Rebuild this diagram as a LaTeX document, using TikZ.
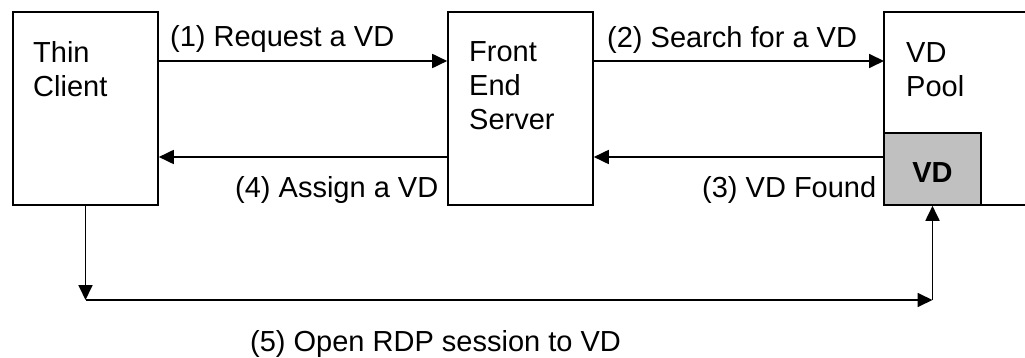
\documentclass[tikz,border=0pt]{standalone}
\usepackage{fontspec}
\setmainfont{Liberation Sans}
\usetikzlibrary{arrows.meta}
\definecolor{vdgray}{HTML}{C0C0C0}
\begin{document}
\begin{tikzpicture}[x=1pt,y=-1pt,
  box/.style={draw, line width=1.6pt, minimum width=145pt, minimum height=193pt, inner sep=0pt},
  arr/.style={line width=1.8pt, -{Triangle[length=15pt,width=14pt]}},
  lbl/.style={inner sep=0pt, anchor=base west, font=\fontsize{29}{34}\selectfont},
  btxt/.style={inner sep=0pt, anchor=base west, align=left, font=\fontsize{29}{34}\selectfont}]
\useasboundingbox (0,0) rectangle (1025,358);
% boxes
\node[box] (tc) at (85.5,108.5) {};
\node[box] (fe) at (520.5,108.5) {};
\coordinate (poolnw) at (884,12);
\coordinate (poolsw) at (884,205);
\coordinate (poolne) at (1025,12);
\coordinate (poolse) at (1025,205);
\draw[line width=1.6pt] (poolne) -- (poolnw) -- (poolsw) -- (poolse);
\node[draw, fill=vdgray, line width=1.6pt, minimum width=97pt, minimum height=72pt, inner sep=0pt] (vd) at (932.5,169) {};
\node[inner sep=0pt, font=\fontsize{29}{34}\selectfont\bfseries] (vdt) at ([yshift=-4pt]vd.center) {VD};
% box texts (base anchor = baseline of last line)
\node[btxt] (tct) at (33,97) {Thin\\Client};
\node[btxt] (fet) at (469,130) {Front\\End\\Server};
\node[btxt] (poolt) at (906,97) {VD\\Pool};
% arrows
\draw[arr] (tc.east |- 0,61) -- (fe.west |- 0,61);
\draw[arr] (fe.east |- 0,61) -- (poolnw |- 0,61);
\draw[arr] (poolnw |- 0,157) -- (fe.east |- 0,157);
\draw[arr] (fe.west |- 0,157) -- (tc.east |- 0,157);
\coordinate (c1) at (tc.south |- 0,300);
\coordinate (c2) at (vd.south |- 0,300);
\draw[arr] (tc.south) -- (c1);
\draw[arr] (c1) -- (c2);
\draw[arr] (c2) -- (vd.south);
% labels
\node[lbl] (l1) at (170,47) {(1) Request a VD};
\node[lbl] (l2) at (607,48) {(2) Search for a VD};
\node[lbl] (l3) at (702,197) {(3) VD Found};
\node[lbl] (l4) at (235,197) {(4) Assign a VD};
\node[lbl] (l5) at (250,351) {(5) Open RDP session to VD};
\end{tikzpicture}
\end{document}
